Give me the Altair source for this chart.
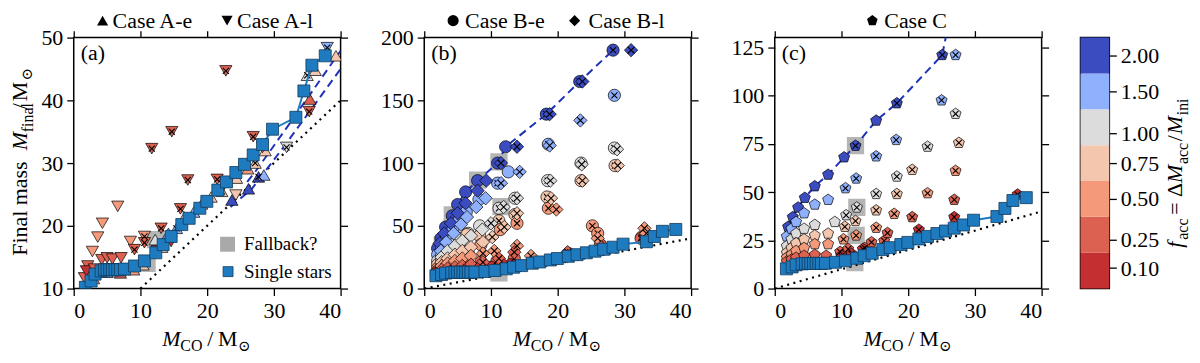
import altair as alt
import pandas as pd

FONT = "Liberation Serif, Times New Roman, Times, DejaVu Serif, serif"
W, H = 268, 252
FS = 22

# ---------------- colour levels of f_acc ----------------
F_LEVELS = ["0.10", "0.25", "0.50", "0.75", "1.00", "1.50", "2.00"]
F_COLORS = ["#c43032", "#dd6150", "#f49a7b", "#f4c6ae", "#dcdcdc", "#8fb1fd", "#3b4cc0"]
CB_BOUNDS = [0.0, 0.175, 0.375, 0.625, 0.875, 1.25, 1.75, 2.25]
CB_TICKS = [0.1, 0.25, 0.5, 0.75, 1.0, 1.5, 2.0]
SS_COLOR = "#1f7bbf"
DASH_COLOR = "#1f33b8"

# ---------------- single stars ----------------
SS_MCO = [1.75, 2.6, 3.2, 4.1, 4.6, 5.0, 5.4, 5.8, 6.2, 6.6, 7.0, 7.6, 9.1, 10.6, 12.3, 13.4,
          14.6, 16.2, 17.3, 18.9, 19.95, 21.6, 22.9, 24.3, 25.6, 26.9, 28.3, 29.8, 33.3, 34.5, 35.7, 37.7]
SS_MFIN = [10.2, 11.2, 12.3, 12.8, 13.0, 13.0, 13.0, 13.0, 13.0, 13.0, 13.0, 13.1, 13.6, 14.4, 15.7, 17.0,
           18.3, 20.2, 21.2, 22.8, 23.9, 25.7, 27.0, 28.5, 29.8, 31.3, 32.95, 35.4, 37.3, 41.5, 45.6, 47.1]

# ---------------- panel (a): Case A  (mco, mfinal, f, crossed) ----------------
CASE_AE = [(23.7, 24.1, "2.00", 0), (26.2, 25.9, "2.00", 0), (27.7, 27.8, "2.00", 1), (28.5, 28.1, "1.50", 0),
           (35.4, 40.2, "0.25", 0), (35.0, 44.0, "1.00", 1), (36.2, 44.8, "0.75", 0), (39.3, 47.1, "0.75", 0),
           (12.2, 17.8, "1.00", 0), (13.2, 16.6, "0.75", 0), (14.2, 18.8, "1.50", 0), (15.4, 19.6, "1.50", 1),
           (16.6, 21.4, "0.75", 0), (18.0, 22.2, "1.50", 0), (19.2, 23.5, "0.75", 0), (20.6, 24.6, "0.75", 0),
           (22.2, 25.5, "0.75", 1), (24.4, 27.6, "0.75", 0), (26.1, 29.1, "0.50", 0), (27.2, 30.0, "0.75", 1),
           (28.7, 32.0, "0.75", 0), (9.0, 13.0, "0.50", 0), (10.4, 13.8, "0.75", 0), (7.0, 12.5, "0.25", 0),
           (5.0, 12.6, "1.50", 0), (3.0, 11.6, "0.50", 0)]
CASE_AL = [(1.6, 11.7, "0.25", 0), (2.1, 13.6, "0.25", 0), (1.9, 12.8, "0.10", 0), (2.8, 15.9, "0.50", 0),
           (3.1, 13.1, "0.25", 0), (3.6, 18.2, "0.50", 0), (4.2, 14.6, "0.25", 0), (4.3, 20.4, "0.50", 0),
           (5.0, 14.9, "0.25", 0), (5.8, 14.7, "0.25", 0), (6.6, 23.1, "0.50", 0), (7.1, 14.9, "0.25", 0),
           (8.5, 17.5, "0.50", 0), (9.1, 16.2, "0.25", 1), (10.6, 18.3, "0.50", 1), (10.6, 17.3, "0.25", 1),
           (11.7, 32.3, "0.25", 1), (13.1, 19.6, "0.25", 1), (14.7, 35.0, "0.25", 1), (16.0, 22.7, "0.25", 1),
           (17.1, 27.3, "0.25", 1), (21.5, 27.4, "0.25", 1), (22.8, 44.7, "0.25", 1), (26.9, 34.2, "0.25", 1),
           (28.3, 32.5, "0.50", 1), (35.3, 38.2, "0.25", 1), (31.9, 32.5, "1.00", 1), (24.3, 24.9, "0.75", 0),
           (38.0, 48.4, "1.50", 1), (12.5, 16.0, "0.10", 0), (14.6, 17.5, "0.10", 0)]
DASH_A1 = [(23.5, 23.0), (26.7, 25.9), (31.7, 32.9), (40.0, 45.0)]
DASH_A2 = [(26.0, 27.0), (27.2, 28.6), (31.7, 35.3), (40.0, 47.9)]
FB_A = [(12.3, 17.8), (11.0, 14.0)]

# ---------------- panel (b): Case B ----------------
CASE_BE = [(2.0, 32, "2.00", 0), (2.5, 40, "2.00", 0), (3.2, 49, "2.00", 0), (4.2, 58, "2.00", 0), (5.0, 67, "2.00", 0),
           (6.2, 77, "2.00", 0), (8.0, 86, "2.00", 0), (11.0, 100, "2.00", 0), (12.2, 113, "2.00", 0),
           (18.3, 139, "2.00", 1), (23.3, 165, "2.00", 1), (28.3, 190, "2.00", 1),
           (2.0, 27, "1.50", 0), (2.6, 33, "1.50", 0), (3.3, 40, "1.50", 0), (4.3, 47, "1.50", 0), (5.2, 54, "1.50", 0),
           (6.3, 61, "1.50", 0), (8.2, 71, "1.50", 0), (11.0, 84, "1.50", 1), (12.6, 93, "1.50", 0),
           (18.6, 115, "1.50", 1), (28.5, 154, "1.50", 1),
           (2.0, 22, "1.00", 0), (2.6, 26, "1.00", 0), (3.3, 31, "1.00", 0), (4.3, 35, "1.00", 0), (5.3, 40, "1.00", 0),
           (6.6, 44, "1.00", 0), (8.3, 50, "1.00", 0), (11.2, 64, "1.00", 1), (13.6, 72, "1.00", 1),
           (18.5, 86, "1.00", 1), (23.5, 100, "1.00", 1), (28.5, 112, "1.00", 1),
           (2.0, 19, "0.75", 0), (2.6, 22, "0.75", 0), (3.3, 25, "0.75", 0), (4.3, 29, "0.75", 0), (5.3, 33, "0.75", 0),
           (6.4, 43, "0.75", 0), (8.3, 42, "0.75", 0), (11.2, 54, "0.75", 1), (13.6, 59, "0.75", 1),
           (18.4, 73, "0.75", 1), (23.5, 86, "0.75", 1), (28.6, 98, "0.75", 1),
           (2.0, 16, "0.50", 0), (2.6, 18, "0.50", 0), (3.3, 20, "0.50", 0), (4.3, 22, "0.50", 0), (5.3, 25, "0.50", 0),
           (6.6, 28, "0.50", 0), (8.5, 35, "0.50", 0), (11.4, 47, "0.50", 1), (13.9, 52, "0.50", 1),
           (18.6, 64, "0.50", 1), (25.2, 50, "0.50", 1), (26.0, 44, "0.50", 1), (32.6, 41, "0.50", 1),
           (2.0, 14, "0.25", 0), (2.6, 15, "0.25", 0), (3.3, 16, "0.25", 0), (4.3, 17, "0.25", 0), (5.3, 18, "0.25", 0),
           (6.6, 19, "0.25", 0), (8.5, 21, "0.25", 0), (10.9, 22, "0.25", 1), (13.5, 24, "0.25", 1),
           (16.2, 23, "0.25", 1), (21.6, 28, "0.25", 1), (26.4, 35, "0.25", 1), (32.5, 40, "0.25", 1),
           (1.8, 12, "0.10", 0), (2.8, 13, "0.10", 0), (3.8, 13.5, "0.10", 0), (5.0, 14, "0.10", 0), (6.5, 15, "0.10", 0),
           (8.2, 15.5, "0.10", 0), (10.0, 17, "0.10", 0), (13.0, 19, "0.10", 1), (21.8, 27, "0.10", 1)]
CASE_BL = [(2.3, 36, "2.00", 0), (3.0, 44, "2.00", 0), (4.0, 52, "2.00", 0), (5.0, 60, "2.00", 0), (6.2, 68, "2.00", 0),
           (8.0, 78, "2.00", 0), (9.3, 86, "2.00", 0), (11.5, 100, "2.00", 1), (13.9, 113, "2.00", 1),
           (18.8, 139, "2.00", 1), (23.7, 165, "2.00", 1), (31.0, 190, "2.00", 1),
           (2.5, 30, "1.50", 0), (3.3, 37, "1.50", 0), (4.4, 44, "1.50", 0), (5.5, 51, "1.50", 0), (6.4, 57, "1.50", 0),
           (7.8, 65, "1.50", 0), (9.2, 72, "1.50", 0), (11.5, 84, "1.50", 1), (14.3, 93, "1.50", 1),
           (18.8, 114, "1.50", 1), (23.4, 134, "1.50", 1),
           (2.6, 25, "1.00", 0), (3.5, 30, "1.00", 0), (4.6, 34, "1.00", 0), (5.7, 38, "1.00", 0), (7.0, 42, "1.00", 0),
           (8.7, 47, "1.00", 0), (10.0, 52, "1.00", 1), (11.9, 65, "1.00", 1), (13.9, 72, "1.00", 1),
           (18.9, 86, "1.00", 1), (23.6, 99, "1.00", 1), (28.9, 111, "1.00", 1),
           (2.6, 21, "0.75", 0), (3.5, 24, "0.75", 0), (4.6, 27, "0.75", 0), (5.7, 30, "0.75", 0), (7.0, 33, "0.75", 0),
           (8.8, 37, "0.75", 0), (10.2, 41, "0.75", 1), (12.0, 49, "0.75", 1), (13.9, 60, "0.75", 1),
           (19.0, 72, "0.75", 1), (23.7, 86, "0.75", 1), (29.0, 98, "0.75", 1),
           (2.6, 18, "0.50", 0), (3.5, 20, "0.50", 0), (4.6, 22, "0.50", 0), (5.7, 24, "0.50", 0), (7.0, 26, "0.50", 0),
           (8.8, 28, "0.50", 1), (10.5, 30, "0.50", 1), (13.9, 34, "0.50", 1), (16.0, 26, "0.50", 1),
           (19.8, 63, "0.50", 1), (26.0, 40, "0.50", 1), (33.0, 48, "0.50", 1), (33.3, 44, "0.50", 1),
           (2.6, 15, "0.25", 0), (3.5, 16, "0.25", 0), (4.6, 17, "0.25", 0), (5.7, 18, "0.25", 0), (7.0, 19, "0.25", 0),
           (8.8, 21, "0.25", 1), (11.2, 24, "0.25", 1), (13.5, 29, "0.25", 1), (21.5, 29, "0.25", 1),
           (26.5, 33, "0.25", 1),
           (2.5, 12, "0.10", 0), (4.0, 13.5, "0.10", 0), (6.0, 14.5, "0.10", 0), (8.0, 15.5, "0.10", 0),
           (12.0, 18.5, "0.10", 1), (21.5, 26, "0.10", 1)]
FB_B = [(11.2, 101), (8.0, 86.5), (4.2, 58.7), (2.7, 35), (11.5, 65.3), (11.2, 12.5)]

# ---------------- panel (c): Case C ----------------
CASE_C = [(2.0, 32, "2.00", 0), (2.7, 37, "2.00", 0), (3.5, 42, "2.00", 0), (4.5, 47, "2.00", 0), (6.0, 53, "2.00", 0),
          (8.0, 59, "2.00", 0), (10.4, 68, "2.00", 0), (12.1, 74, "2.00", 1), (15.2, 87, "2.00", 0),
          (18.3, 96, "2.00", 1), (25.1, 121, "2.00", 1),
          (1.8, 27, "1.50", 0), (2.5, 31, "1.50", 0), (3.2, 34.5, "1.50", 0), (4.4, 39, "1.50", 0), (6.0, 43.5, "1.50", 0),
          (8.0, 46, "1.50", 0), (10.6, 52, "1.50", 1), (12.2, 57, "1.50", 1), (15.2, 68.5, "1.50", 1),
          (18.2, 77, "1.50", 1), (25.0, 97.5, "1.50", 1), (27.1, 121, "1.50", 1),
          (1.8, 22, "1.00", 0), (2.5, 25.5, "1.00", 0), (3.2, 28.5, "1.00", 0), (4.4, 31, "1.00", 0), (6.0, 33, "1.00", 0),
          (9.0, 34.5, "1.00", 0), (10.7, 38, "1.00", 1), (12.3, 42, "1.00", 1), (15.2, 49, "1.00", 1),
          (18.3, 58, "1.00", 1), (22.9, 73.5, "1.00", 1), (27.1, 90.5, "1.00", 1),
          (1.8, 18.5, "0.75", 0), (2.5, 21, "0.75", 0), (3.2, 23.5, "0.75", 0), (4.4, 25.5, "0.75", 0),
          (6.0, 27.5, "0.75", 0), (8.0, 28.5, "0.75", 0), (10.5, 32, "0.75", 1), (12.1, 35, "0.75", 1),
          (15.2, 40.5, "0.75", 1), (18.3, 49, "0.75", 1), (20.6, 61.5, "0.75", 1), (27.6, 75.5, "0.75", 1),
          (1.8, 16, "0.50", 0), (2.5, 17.5, "0.50", 0), (3.2, 19.5, "0.50", 0), (4.4, 21, "0.50", 0), (6.0, 23, "0.50", 0),
          (8.0, 23, "0.50", 0), (10.3, 25.5, "0.50", 1), (12.2, 27.5, "0.50", 1), (15.2, 31.5, "0.50", 1),
          (17.9, 38.7, "0.50", 1), (22.9, 49.4, "0.50", 1), (27.1, 61, "0.50", 1),
          (1.8, 14, "0.25", 0), (2.5, 15, "0.25", 0), (3.2, 16, "0.25", 0), (4.4, 17, "0.25", 0), (6.0, 17.5, "0.25", 0),
          (7.7, 17, "0.25", 0), (9.8, 19, "0.25", 1), (11.0, 20.5, "0.25", 1), (13.5, 21, "0.25", 1),
          (14.5, 24, "0.25", 1), (16.4, 24.7, "0.25", 1), (16.9, 28.8, "0.25", 1), (20.6, 37, "0.25", 1),
          (26.9, 46, "0.25", 1),
          (10.0, 17, "0.10", 1), (11.5, 18, "0.10", 1), (13.2, 20.5, "0.10", 1), (21.6, 30.5, "0.10", 1),
          (26.9, 37, "0.10", 1), (36.4, 48.7, "0.10", 1)]
DASH_C_EXTRA = [(26.5, 145)]
FB_C = [(12.1, 74), (12.3, 42), (12.2, 27.5), (12.0, 13.4)]

PENTAGON = "M0,-1L0.951,-0.309L0.588,0.809L-0.588,0.809L-0.951,-0.309Z"
CROSS = "M-0.5,-0.5L0.5,0.5M-0.5,0.5L0.5,-0.5"

one = pd.DataFrame({"k": [0]})
cscale = alt.Scale(domain=F_LEVELS, range=F_COLORS)


def pts_df(rows):
    return pd.DataFrame(rows, columns=["mco", "mfin", "f", "cr"])


def xy_df(rows):
    return pd.DataFrame(rows, columns=["mco", "mfin"])


def txt(s, x, y, size=FS, style="normal", angle=0, align="left", baseline="alphabetic"):
    return alt.Chart(one).mark_text(text=s, font=FONT, fontSize=size, fontStyle=style, angle=angle,
                                    align=align, baseline=baseline, color="black").encode(
        x=alt.value(x), y=alt.value(y))


def glyph(shape, x, y, size, fill, stroke=None, sw=0.0):
    kw = dict(shape=shape, size=size, filled=True, color=fill, opacity=1)
    if stroke:
        kw.update(stroke=stroke, strokeWidth=sw)
    return alt.Chart(one).mark_point(**kw).encode(x=alt.value(x), y=alt.value(y))


def panel(cases, fb, dashes, ydom, yvals, label, header, ytitle=False, legend=False):
    xs = alt.Scale(domain=[0, 40], nice=False, zero=False)
    ys = alt.Scale(domain=ydom, nice=False, zero=False)
    X = alt.X("mco:Q", scale=xs, axis=None)
    Y = alt.Y("mfin:Q", scale=ys, axis=None)
    layers = []
    layers.append(alt.Chart(xy_df(fb)).mark_square(size=300, color="#a8a8a8", opacity=0.85, clip=True)
                  .encode(x=X, y=Y))
    layers.append(alt.Chart(xy_df([(ydom[0], ydom[0]), (40, 40)])).mark_line(
        color="black", strokeDash=[2, 4.5], strokeWidth=2.2, clip=True).encode(x=X, y=Y))
    for d in dashes:
        layers.append(alt.Chart(xy_df(d)).mark_line(
            color=DASH_COLOR, strokeDash=[8, 5], strokeWidth=2, clip=True).encode(x=X, y=Y))
    for rows, shape, size in cases:
        df = pts_df(rows)
        layers.append(alt.Chart(df).mark_point(shape=shape, size=size, filled=True, opacity=1,
                                               stroke="black", strokeWidth=0.7, clip=True).encode(
            x=X, y=Y, color=alt.Color("f:N", scale=cscale, legend=None)))
        layers.append(alt.Chart(df[df["cr"] == 1]).mark_point(
            shape=CROSS, size=size, filled=False, color="black", strokeWidth=1.1, opacity=1, clip=True)
            .encode(x=X, y=Y))
    ss = pd.DataFrame({"mco": SS_MCO, "mfin": SS_MFIN})
    layers.append(alt.Chart(ss).mark_line(color=SS_COLOR, strokeWidth=2, clip=True).encode(x=X, y=Y))
    layers.append(alt.Chart(ss).mark_square(size=145, color=SS_COLOR, opacity=1, stroke="#123a5c",
                                            strokeWidth=0.8, clip=True).encode(x=X, y=Y))
    # axes (bottom/left with labels, top/right ticks only)
    ax = dict(labelFont=FONT, labelFontSize=FS, labelColor="black", tickSize=7, tickWidth=1.3,
              tickColor="black", domain=False, grid=False, title=None)
    anchor = pd.DataFrame({"mco": [0.0], "mfin": [float(ydom[0])]})
    layers.append(alt.Chart(anchor).mark_point(opacity=0).encode(
        x=alt.X("mco:Q", scale=xs, axis=alt.Axis(orient="bottom", values=[0, 10, 20, 30, 40],
                                                  labelPadding=5, **ax)),
        y=alt.Y("mfin:Q", scale=ys, axis=alt.Axis(orient="left", values=yvals, labelPadding=4, **ax))))
    layers.append(alt.Chart(anchor).mark_point(opacity=0).encode(
        x=alt.X("mco:Q", scale=xs, axis=alt.Axis(orient="top", values=[0, 10, 20, 30, 40], labels=False, **ax)),
        y=alt.Y("mfin:Q", scale=ys, axis=alt.Axis(orient="right", values=yvals, labels=False, **ax))))
    # panel label
    layers.append(txt(label, 7, 22))
    # x title  M_CO / M_sun
    layers += [txt("M", 89, 310, style="italic"), txt("CO", 107, 315, size=16),
               txt("/", 134, 310), txt("M", 145, 310), txt("\u2299", 165, 315, size=15)]
    # header legend
    for shape, gx, tx, s in header:
        layers.append(glyph(shape, gx, -17, 125, "black"))
        layers.append(txt(s, tx, -27, size=22, baseline="top"))
    if ytitle:
        layers += [txt("Final mass", -64, 219, angle=270, baseline="top"),
                   txt("M", -64, 113, style="italic", angle=270, baseline="top"),
                   txt("final", -54, 95, size=16, angle=270, baseline="top"),
                   txt("/", -64, 72, angle=270, baseline="top"),
                   txt("M", -64, 64, angle=270, baseline="top"),
                   txt("\u2299", -54, 43, size=15, angle=270, baseline="top")]
    if legend:
        layers += [glyph("square", 154.5, 207.5, 225, "#a9a9a9"),
                   txt("Fallback?", 171, 213, size=19),
                   glyph("square", 155, 235, 100, SS_COLOR, "#123a5c", 0.8),
                   txt("Single stars", 171, 241, size=19)]
    return alt.layer(*layers).properties(width=W, height=H).resolve_axis(x="independent", y="independent")


dash_b = [(r[0], r[1]) for r in CASE_BE if r[2] == "2.00"]
dash_c = [(r[0], r[1]) for r in CASE_C if r[2] == "2.00"] + DASH_C_EXTRA

pa = panel([(CASE_AE, "triangle-up", 150), (CASE_AL, "triangle-down", 150)], FB_A, [DASH_A1, DASH_A2],
           [10, 50], [10, 20, 30, 40, 50], "(a)",
           [("triangle-up", 29, 39, "Case A-e"), ("triangle-down", 154, 164, "Case A-l")],
           ytitle=True, legend=True)
pb = panel([(CASE_BE, "circle", 150), (CASE_BL, "diamond", 180)], FB_B, [dash_b],
           [0, 200], [0, 50, 100, 150, 200], "(b)",
           [("circle", 29, 41, "Case B-e"), ("diamond", 151, 165, "Case B-l")])
pc = panel([(CASE_C, PENTAGON, 135)], FB_C, [dash_c],
           [0, 130], [0, 25, 50, 75, 100, 125], "(c)",
           [(PENTAGON, 98, 110, "Case C")])

# ---------------- colour bar ----------------
cb_df = pd.DataFrame({"lo": CB_BOUNDS[:-1], "hi": CB_BOUNDS[1:], "col": F_COLORS})
cb_scale = alt.Scale(domain=CB_BOUNDS, range=[252, 216, 180, 144, 108, 72, 36, 0], nice=False, zero=False)
cb_rect = alt.Chart(cb_df).mark_rect().encode(
    y=alt.Y("lo:Q", scale=cb_scale, axis=alt.Axis(orient="right", values=CB_TICKS, format=".2f", title=None,
                                                  labelFont=FONT, labelFontSize=FS, labelColor="black",
                                                  tickSize=7, tickWidth=1.3, tickColor="black", domain=False,
                                                  grid=False, labelPadding=4)),
    y2="hi:Q", x=alt.value(0), x2=alt.value(29),
    color=alt.Color("col:N", scale=None))
CBX, CBS = 106.5, 110.5
cb_title = [txt("f", CBX, 211, style="italic", angle=270, baseline="bottom"),
            txt("acc", CBS, 203, size=16, angle=270, baseline="bottom"),
            txt("=", CBX, 178, angle=270, baseline="bottom"),
            txt("\u0394", CBX, 160, angle=270, baseline="bottom"),
            txt("M", CBX, 146, style="italic", angle=270, baseline="bottom"),
            txt("acc", CBS, 127, size=16, angle=270, baseline="bottom"),
            txt("/", CBX, 104, angle=270, baseline="bottom"),
            txt("M", CBX, 97, style="italic", angle=270, baseline="bottom"),
            txt("ini", CBS, 78, size=16, angle=270, baseline="bottom")]
cb = alt.layer(cb_rect, *cb_title).properties(width=29, height=H)

inner = alt.hconcat(pa, pb, pc, spacing=84, bounds="flush")
chart = alt.hconcat(inner, cb, spacing=29, bounds="full").configure_view(
    stroke="black", strokeWidth=1.5).properties(padding={"left": 0, "top": 0, "right": 0, "bottom": 0})

chart.save("out.html", embed_options={"renderer": "svg", "actions": False})
